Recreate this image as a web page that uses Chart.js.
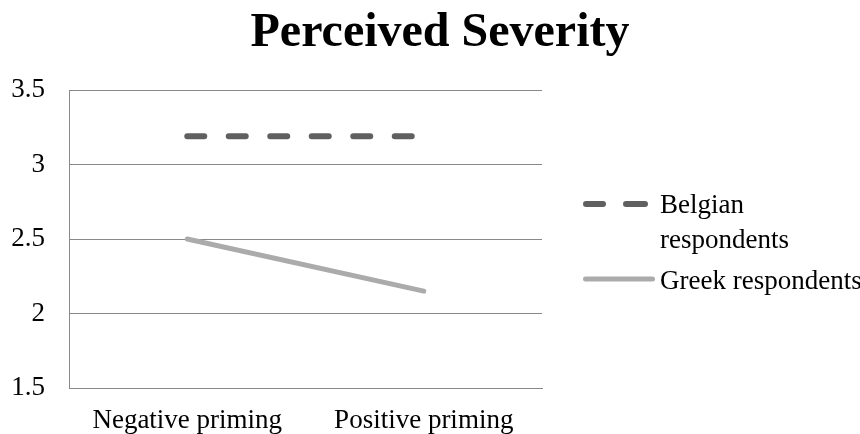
<!DOCTYPE html>
<html>
<head>
<meta charset="utf-8">
<script src="https://cdn.jsdelivr.net/npm/chart.js@4/dist/chart.umd.min.js"></script>
<style>
  html, body { margin: 0; padding: 0; background: #ffffff; }
  #wrap { width: 860px; height: 434px; position: relative; }
</style>
</head>
<body>
<div id="wrap"><canvas id="c" width="860" height="434"></canvas></div>
<script>
const titleText = "Perceived Severity";
const categories = ["Negative priming", "Positive priming"];
const belgianLabel = ["Belgian", "respondents"];
const greekLabel = ["Greek respondents"];
const belgianValues = [3.19, 3.19];
const greekValues = [2.5, 2.15];
const yTicks = [1.5, 2, 2.5, 3, 3.5];

const SERIF = "'Liberation Serif', 'Times New Roman', serif";
const BELGIAN_COLOR = "#606060";
const GREEK_COLOR = "#ababab";

const legendPlugin = {
  id: "customLegend",
  afterDraw(chart) {
    const ctx = chart.ctx;
    ctx.save();
    ctx.lineCap = "round";
    // Belgian sample (dashed)
    ctx.strokeStyle = BELGIAN_COLOR;
    ctx.lineWidth = 6;
    ctx.beginPath();
    ctx.moveTo(586, 204); ctx.lineTo(603, 204);
    ctx.moveTo(626, 204); ctx.lineTo(645, 204);
    ctx.stroke();
    // Greek sample (solid)
    ctx.strokeStyle = GREEK_COLOR;
    ctx.lineWidth = 5;
    ctx.beginPath();
    ctx.moveTo(585.5, 279); ctx.lineTo(652.5, 279);
    ctx.stroke();
    ctx.fillStyle = "#000000";
    ctx.font = "27px " + SERIF;
    ctx.textAlign = "left";
    ctx.textBaseline = "alphabetic";
    belgianLabel.forEach((t, i) => ctx.fillText(t, 660, 213 + i * 35));
    greekLabel.forEach((t, i) => ctx.fillText(t, 660, 289 + i * 35));
    ctx.restore();
  }
};

new Chart(document.getElementById("c"), {
  type: "line",
  data: {
    labels: categories,
    datasets: [
      {
        label: belgianLabel.join(" "),
        data: belgianValues,
        borderColor: BELGIAN_COLOR,
        backgroundColor: BELGIAN_COLOR,
        borderWidth: 6,
        borderDash: [17, 24.5],
        borderCapStyle: "round",
        pointRadius: 0,
        fill: false,
        tension: 0
      },
      {
        label: greekLabel.join(" "),
        data: greekValues,
        borderColor: GREEK_COLOR,
        backgroundColor: GREEK_COLOR,
        borderWidth: 5,
        borderCapStyle: "round",
        pointRadius: 0,
        fill: false,
        tension: 0
      }
    ]
  },
  options: {
    responsive: false,
    animation: false,
    devicePixelRatio: 1,
    layout: { padding: { left: 0, right: -20, top: 0, bottom: 0 } },
    plugins: {
      legend: { display: false },
      tooltip: { enabled: false },
      title: {
        display: true,
        text: titleText,
        color: "#000000",
        font: { family: SERIF, size: 48, weight: "bold", lineHeight: 1.2 },
        padding: { top: 5, bottom: 27.4 }
      }
    },
    scales: {
      x: {
        type: "category",
        offset: true,
        grid: { display: false, drawTicks: false },
        border: { display: true, color: "#888888", width: 1 },
        ticks: { color: "#000000", font: { family: SERIF, size: 27 }, padding: 17, maxRotation: 0 },
        afterFit(scale) { scale.height = 46; }
      },
      y: {
        min: 1.5,
        max: 3.5,
        afterBuildTicks(scale) { scale.ticks = yTicks.map(v => ({ value: v })); },
        grid: { color: "#888888", lineWidth: 1, drawTicks: false },
        border: { display: true, color: "#888888", width: 1 },
        ticks: { color: "#000000", font: { family: SERIF, size: 27 }, padding: 24, callback: (v) => String(v) },
        afterFit(scale) { scale.width = 69; }
      },
      legendSpace: {
        type: "linear",
        position: "right",
        display: true,
        grid: { display: false, drawTicks: false },
        border: { display: false },
        ticks: { display: false },
        afterFit(scale) { scale.width = 338; }
      }
    }
  },
  plugins: [legendPlugin]
});
</script>
</body>
</html>
